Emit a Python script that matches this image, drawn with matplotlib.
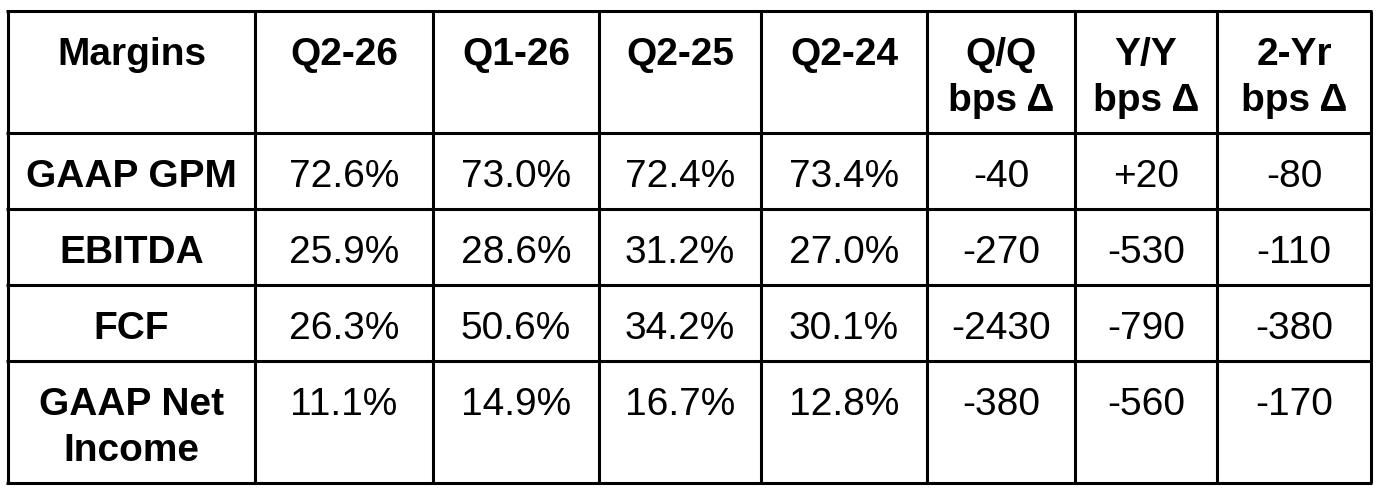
import matplotlib
matplotlib.use("Agg")
import matplotlib.pyplot as plt

# table contents
headers = ["Margins", "Q2-26", "Q1-26", "Q2-25", "Q2-24",
           "Q/Q\nbps Δ", "Y/Y\nbps Δ", "2-Yr\nbps Δ"]
metrics = ["GAAP GPM", "EBITDA", "FCF", "GAAP Net\nIncome"]
q2_26 = ["72.6%", "25.9%", "26.3%", "11.1%"]
q1_26 = ["73.0%", "28.6%", "50.6%", "14.9%"]
q2_25 = ["72.4%", "31.2%", "34.2%", "16.7%"]
q2_24 = ["73.4%", "27.0%", "30.1%", "12.8%"]
qq_bps = ["-40", "-270", "-2430", "-380"]
yy_bps = ["+20", "-530", "-790", "-560"]
two_yr_bps = ["-80", "-110", "-380", "-170"]

# grid positions in pixels
col_edges = [8, 255, 433, 599, 761, 927, 1075, 1217, 1371]
row_edges = [11, 133, 209, 285, 361, 483]

W, H = 1382, 494
fig = plt.figure(figsize=(W / 100, H / 100), dpi=100)
ax = fig.add_axes([0, 0, 1, 1])
ax.set_xlim(0, W)
ax.set_ylim(H, 0)
ax.axis("off")

font = "Liberation Sans"
size = 28
line_gap = 46
baseline_off = 54

for y in row_edges:
    ax.plot([col_edges[0] - 1.5, col_edges[-1] + 1.5], [y, y], color="black", lw=2.2,
            solid_capstyle="butt")
for x in col_edges:
    ax.plot([x, x], [row_edges[0], row_edges[-1]], color="black", lw=2.2,
            solid_capstyle="butt")


def cell_text(ci, ri, text, bold):
    cx = (col_edges[ci] + col_edges[ci + 1]) / 2
    top = row_edges[ri]
    for k, line in enumerate(text.split("\n")):
        ax.text(cx, top + baseline_off + k * line_gap, line, ha="center", va="baseline",
                fontsize=size, family=font, fontweight="bold" if bold else "normal")


for ci, h in enumerate(headers):
    cell_text(ci, 0, h, True)

columns = [q2_26, q1_26, q2_25, q2_24, qq_bps, yy_bps, two_yr_bps]
for ri, m in enumerate(metrics):
    cell_text(0, ri + 1, m, True)
    for ci, col in enumerate(columns):
        cell_text(ci + 1, ri + 1, col[ri], False)

fig.savefig("out.png", dpi=100, facecolor="white")
